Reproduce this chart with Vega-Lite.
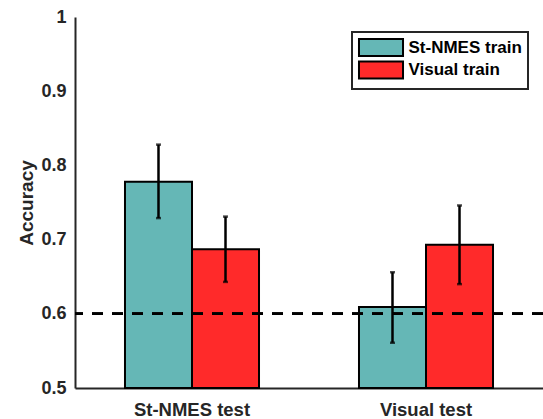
{
  "$schema": "https://vega.github.io/schema/vega-lite/v6.json",
  "width": 468,
  "height": 371,
  "autosize": {"type": "none"},
  "padding": {"left": 75, "top": 17, "right": 0, "bottom": 31},
  "background": "white",
  "config": {
    "view": {"stroke": null},
    "font": "Liberation Sans",
    "legend": {"strokeWidth": 2},
    "axis": {
      "domainColor": "#262626",
      "domainWidth": 2,
      "ticks": false,
      "grid": false,
      "labelFont": "Liberation Sans",
      "labelFontWeight": "bold",
      "labelColor": "#262626",
      "titleFont": "Liberation Sans",
      "titleFontWeight": "bold",
      "titleColor": "#262626"
    }
  },
  "data": {
    "values": [
      {"test": "St-NMES test", "train": "St-NMES train", "acc": 0.778, "lo": 0.729, "hi": 0.828},
      {"test": "St-NMES test", "train": "Visual train", "acc": 0.687, "lo": 0.643, "hi": 0.731},
      {"test": "Visual test", "train": "St-NMES train", "acc": 0.609, "lo": 0.561, "hi": 0.656},
      {"test": "Visual test", "train": "Visual train", "acc": 0.693, "lo": 0.640, "hi": 0.746}
    ]
  },
  "layer": [
    {
      "mark": {"type": "bar", "stroke": "black", "strokeWidth": 2, "opacity": 1},
      "encoding": {
        "x": {
          "field": "test",
          "type": "nominal",
          "scale": {"paddingInner": 0, "paddingOuter": 0},
          "axis": {"title": null, "labelAngle": 0, "labelFontSize": 18.5, "labelPadding": 12}
        },
        "xOffset": {
          "field": "train",
          "type": "nominal",
          "scale": {"paddingInner": 0, "paddingOuter": 0.746}
        },
        "y": {
          "field": "acc",
          "type": "quantitative",
          "scale": {"domain": [0.5, 1], "zero": false, "nice": false},
          "axis": {
            "title": "Accuracy",
            "values": [0.5, 0.6, 0.7, 0.8, 0.9, 1],
            "format": ".1~f",
            "labelFontSize": 18,
            "labelPadding": 9,
            "titleFontSize": 19,
            "titlePadding": 4
          }
        },
        "y2": {"datum": 0.5},
        "color": {
          "field": "train",
          "type": "nominal",
          "scale": {"domain": ["St-NMES train", "Visual train"], "range": ["#65B7B6", "#FF2A2A"]},
          "legend": {
            "title": null,
            "orient": "none",
            "legendX": 277,
            "legendY": 15,
            "padding": 6,
            "strokeColor": "#262626",
            "fillColor": "white",
            "labelFont": "Liberation Sans",
            "labelFontSize": 17,
            "labelFontWeight": "bold",
            "labelColor": "black",
            "labelOffset": 18,
            "symbolOffset": 13.5,
            "symbolType": "M-2.59,-1H2.59V1H-2.59Z",
            "symbolSize": 289,
            "symbolStrokeColor": "black",
            "symbolStrokeWidth": 2,
            "symbolOpacity": 1,
            "rowPadding": -2.5
          }
        }
      }
    },
    {
      "mark": {"type": "rule", "color": "black", "strokeWidth": 2.5, "strokeDash": [11, 9]},
      "encoding": {
        "y": {"datum": 0.6, "type": "quantitative"}
      }
    },
    {
      "mark": {"type": "rule", "color": "black", "strokeWidth": 2.5},
      "encoding": {
        "x": {"field": "test", "type": "nominal"},
        "xOffset": {"field": "train", "type": "nominal"},
        "y": {"field": "lo", "type": "quantitative"},
        "y2": {"field": "hi"}
      }
    },
    {
      "mark": {"type": "tick", "color": "black", "size": 5, "thickness": 2.5, "orient": "horizontal"},
      "encoding": {
        "x": {"field": "test", "type": "nominal"},
        "xOffset": {"field": "train", "type": "nominal"},
        "y": {"field": "lo", "type": "quantitative"}
      }
    },
    {
      "mark": {"type": "tick", "color": "black", "size": 5, "thickness": 2.5, "orient": "horizontal"},
      "encoding": {
        "x": {"field": "test", "type": "nominal"},
        "xOffset": {"field": "train", "type": "nominal"},
        "y": {"field": "hi", "type": "quantitative"}
      }
    }
  ]
}
